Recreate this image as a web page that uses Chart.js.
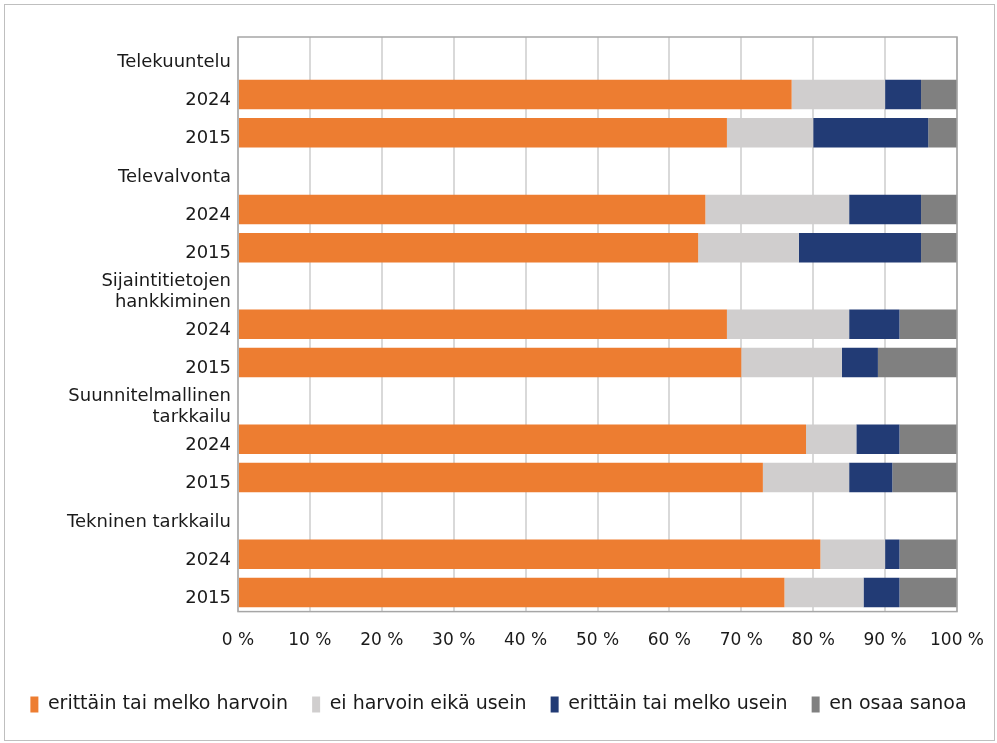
<!DOCTYPE html>
<html>
<head>
<meta charset="utf-8">
<script src="https://cdn.jsdelivr.net/npm/chart.js@4.4.1/dist/chart.umd.min.js"></script>
<style>
    body { margin: 0; background: #fff; }
    #wrap { position: relative; width: 997px; height: 743px; }
    #frame { position: absolute; left: 4px; top: 4px; width: 989px; height: 735px; border: 1px solid #bfbfbf; pointer-events: none; }
</style>
</head>
<body>
<div id="wrap">
    <canvas id="chart" width="997" height="743"></canvas>
    <div id="frame"></div>
</div>
<script>
// rivit: otsikkorivi + 2024 + 2015 jokaiselle menetelmälle
const categories = [
    'Telekuuntelu', '2024', '2015',
    'Televalvonta', '2024', '2015',
    ['Sijaintitietojen', 'hankkiminen'], '2024', '2015',
    ['Suunnitelmallinen', 'tarkkailu'], '2024', '2015',
    'Tekninen tarkkailu', '2024', '2015'
];
const seriesNames = ['erittäin tai melko harvoin', 'ei harvoin eikä usein', 'erittäin tai melko usein', 'en osaa sanoa'];
const harvoin = [null, 77, 68, null, 65, 64, null, 68, 70, null, 79, 73, null, 81, 76];
const eiHarvoinEikaUsein = [null, 13, 12, null, 20, 14, null, 17, 14, null, 7, 12, null, 9, 11];
const usein = [null, 5, 16, null, 10, 17, null, 7, 5, null, 6, 6, null, 2, 5];
const enOsaaSanoa = [null, 5, 4, null, 5, 5, null, 8, 11, null, 8, 9, null, 8, 8];
const xTicks = [0, 10, 20, 30, 40, 50, 60, 70, 80, 90, 100];

const colors = ['#ED7D31', '#D0CECE', '#223B75', '#808080'];
const values = [harvoin, eiHarvoinEikaUsein, usein, enOsaaSanoa];
const axisFont = '"DejaVu Sans", "Noto Sans", sans-serif';

// kehys piirtoalueen ympärille
const plotBorder = {
    id: 'plotBorder',
    afterDraw(chart) {
        const a = chart.chartArea;
        const ctx = chart.ctx;
        ctx.save();
        ctx.strokeStyle = '#a6a6a6';
        ctx.lineWidth = 1.5;
        ctx.strokeRect(a.left, a.top, a.right - a.left, a.bottom - a.top);
        ctx.restore();
    }
};

const ctx = document.getElementById('chart').getContext('2d');
const chart = new Chart(ctx, {
    type: 'bar',
    data: {
        labels: categories,
        datasets: seriesNames.map((name, i) => ({
            label: name,
            data: values[i],
            backgroundColor: colors[i],
            borderWidth: 0,
            barPercentage: 0.77,
            categoryPercentage: 1
        }))
    },
    options: {
        indexAxis: 'y',
        responsive: false,
        animation: false,
        layout: { padding: { top: 37, right: 0, bottom: 19, left: 0 } },
        scales: {
            x: {
                stacked: true,
                min: 0,
                max: 100,
                afterBuildTicks: (scale) => { scale.ticks = xTicks.map(v => ({ value: v })); },
                afterFit: (scale) => { scale.height += 16; },
                ticks: {
                    callback: (v) => v + ' %',
                    color: '#1a1a1a',
                    font: { size: 17, family: axisFont },
                    padding: 4,
                    maxRotation: 0,
                    autoSkip: false
                },
                grid: { color: '#d9d9d9', lineWidth: 2, drawTicks: true, tickLength: 15, tickColor: 'rgba(0,0,0,0)' },
                border: { display: false }
            },
            y: {
                stacked: true,
                afterFit: (scale) => { scale.width = 238; },
                ticks: {
                    color: '#1a1a1a',
                    font: { size: 18, family: axisFont, lineHeight: 1.2 },
                    padding: 7,
                    labelOffset: 6,
                    autoSkip: false
                },
                grid: { display: false, drawTicks: false },
                border: { display: false }
            },
            // tyhjä oikea reuna-alue
            yRight: {
                type: 'category',
                position: 'right',
                afterFit: (scale) => { scale.width = 40; },
                ticks: { display: false },
                grid: { display: false, drawTicks: false },
                border: { display: false }
            }
        },
        plugins: {
            legend: {
                position: 'bottom',
                labels: {
                    boxWidth: 8,
                    boxHeight: 16,
                    padding: 24,
                    color: '#1a1a1a',
                    font: { size: 19, family: axisFont }
                }
            },
            tooltip: { enabled: false }
        }
    },
    plugins: [plotBorder]
});
</script>
</body>
</html>
